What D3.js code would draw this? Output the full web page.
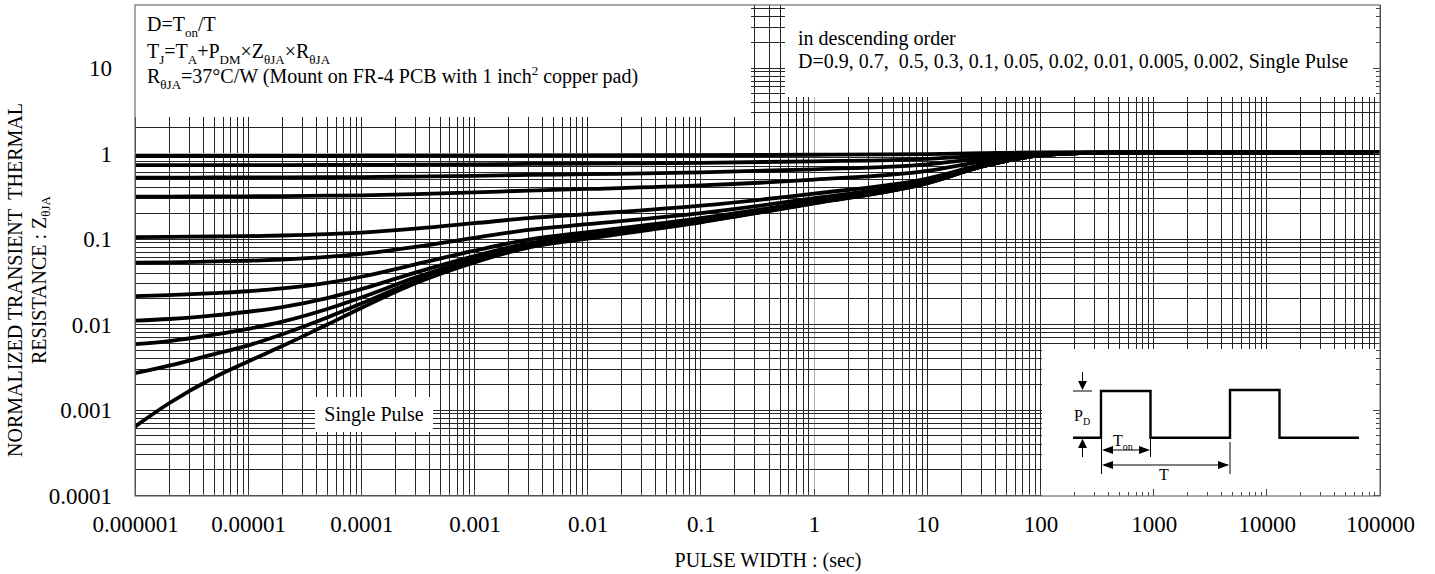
<!DOCTYPE html>
<html>
<head>
<meta charset="utf-8">
<script src="https://cdn.jsdelivr.net/npm/d3@7"></script>
<style>
  body { margin: 0; background: #fff; }
  svg { display: block; }
  text { font-family: "Liberation Serif", "Times New Roman", serif; fill: #000; white-space: pre; }
</style>
</head>
<body>
<svg id="chart" width="1435" height="574"></svg>
<script>
// Pulse widths (s) at which the transient thermal curves are sampled
const pulseWidth = [1e-6, 2e-6, 5e-6, 1e-5, 2e-5, 5e-5, 1e-4, 3e-4, 1e-3, 3e-3, 1e-2, 1e-1, 1, 10, 30, 100, 300, 1000, 1e4, 1e5];

// Normalized transient thermal resistance, one array per duty cycle
const zD09    = [0.941, 0.941, 0.941, 0.941, 0.941, 0.941, 0.942, 0.944, 0.946, 0.948, 0.951, 0.956, 0.967, 0.985, 1.010, 1.030, 1.030, 1.03, 1.03, 1.03];
const zD07    = [0.732, 0.732, 0.732, 0.733, 0.733, 0.735, 0.736, 0.741, 0.748, 0.755, 0.762, 0.779, 0.810, 0.866, 0.942, 1.017, 1.029, 1.03, 1.03, 1.03];
const zD05    = [0.523, 0.523, 0.524, 0.524, 0.525, 0.528, 0.530, 0.538, 0.549, 0.562, 0.573, 0.601, 0.653, 0.747, 0.873, 0.998, 1.027, 1.03, 1.03, 1.03];
const zD03    = [0.314, 0.314, 0.315, 0.316, 0.318, 0.321, 0.324, 0.335, 0.351, 0.369, 0.385, 0.423, 0.496, 0.628, 0.804, 0.979, 1.024, 1.03, 1.03, 1.03];
const zD01    = [0.105, 0.106, 0.107, 0.108, 0.110, 0.114, 0.119, 0.132, 0.153, 0.176, 0.196, 0.246, 0.340, 0.509, 0.735, 0.960, 1.021, 1.03, 1.03, 1.03];
const zD005   = [0.0529, 0.0534, 0.0547, 0.0557, 0.0576, 0.0618, 0.0670, 0.0810, 0.103, 0.128, 0.149, 0.201, 0.300, 0.479, 0.717, 0.956, 1.020, 1.03, 1.03, 1.03];
const zD002   = [0.0215, 0.0221, 0.0233, 0.0245, 0.0264, 0.0307, 0.0362, 0.0506, 0.0731, 0.0987, 0.120, 0.175, 0.277, 0.461, 0.707, 0.953, 1.020, 1.03, 1.03, 1.03];
const zD001   = [0.0111, 0.0116, 0.0128, 0.0141, 0.0160, 0.0204, 0.0259, 0.0405, 0.0632, 0.0891, 0.111, 0.166, 0.269, 0.455, 0.704, 0.952, 1.020, 1.03, 1.03, 1.03];
const zD0005  = [0.0059, 0.0064, 0.0076, 0.0089, 0.0108, 0.0152, 0.0207, 0.0354, 0.0583, 0.0842, 0.106, 0.161, 0.265, 0.452, 0.702, 0.951, 1.020, 1.03, 1.03, 1.03];
const zD0002  = [0.0027, 0.0033, 0.0045, 0.0057, 0.0077, 0.0121, 0.0176, 0.0323, 0.0553, 0.0813, 0.103, 0.159, 0.263, 0.451, 0.701, 0.951, 1.020, 1.03, 1.03, 1.03];
const zSingle = [0.00064, 0.0012, 0.0024, 0.0037, 0.0056, 0.0100, 0.0156, 0.0303, 0.0533, 0.0794, 0.101, 0.157, 0.261, 0.449, 0.700, 0.950, 1.019, 1.03, 1.03, 1.03];

const dutyNames = ["0.9", "0.7", "0.5", "0.3", "0.1", "0.05", "0.02", "0.01", "0.005", "0.002", "Single Pulse"];
const dutySeries = [zD09, zD07, zD05, zD03, zD01, zD005, zD002, zD001, zD0005, zD0002, zSingle];

// Axis tick labels
const xTickLabels = ["0.000001", "0.00001", "0.0001", "0.001", "0.01", "0.1", "1", "10", "100", "1000", "10000", "100000"];
const yTickLabels = ["0.0001", "0.001", "0.01", "0.1", "1", "10"];
const yTop = 54.6;

const svg = d3.select("#chart");
const L = 135, R = 1380, T = 5, B = 496;
const yBottomPx = 495.5;

const x = d3.scaleLog().domain([1e-6, 1e5]).range([L, R]);
const y = d3.scaleLog().domain([1e-4, yTop]).range([yBottomPx, T]);

// ---- grid ----
const xGrid = [];
for (let e = -6; e <= 4; e++) for (let m = 1; m <= 9; m++) xGrid.push(m * Math.pow(10, e));
xGrid.push(1e5);
const yGrid = [];
for (let e = -4; e <= 1; e++) for (let m = 1; m <= 9; m++) {
  const v = m * Math.pow(10, e);
  if (v <= yTop) yGrid.push(v);
}
const isOne = d => Math.abs(d - 1) < 1e-9;
const isDecade = d => Math.abs(Math.log10(d) - Math.round(Math.log10(d))) < 1e-9;

const grid = svg.append("g").attr("shape-rendering", "crispEdges");
grid.selectAll("line.v").data(xGrid).join("line")
  .attr("class", "v")
  .attr("x1", d => x(d)).attr("x2", d => x(d))
  .attr("y1", T).attr("y2", B)
  .attr("stroke", d => isOne(d) ? "#b5b5b5" : "#262626")
  .attr("stroke-width", 1);
grid.selectAll("line.h").data(yGrid).join("line")
  .attr("class", "h")
  .attr("x1", L).attr("x2", R)
  .attr("y1", d => y(d)).attr("y2", d => y(d))
  .attr("stroke", d => isOne(d) ? "#b5b5b5" : "#262626")
  .attr("stroke-width", 1);

// ---- curves ----
svg.append("clipPath").attr("id", "plotClip")
  .append("rect").attr("x", L).attr("y", T).attr("width", R - L).attr("height", B - T);

const line = d3.line()
  .x(d => x(d[0]))
  .y(d => y(d[1]))
  .curve(d3.curveMonotoneX);

svg.append("g").attr("clip-path", "url(#plotClip)")
  .selectAll("path").data(dutySeries).join("path")
  .attr("d", vals => line(pulseWidth.map((t, i) => [t, vals[i]])))
  .attr("fill", "none")
  .attr("stroke", "#000")
  .attr("stroke-width", 3.8)
  .attr("stroke-linejoin", "round");

// ---- white panels over the grid ----
const panels = svg.append("g");
panels.append("rect").attr("x", L).attr("y", T).attr("width", 751 - L).attr("height", 117 - T).attr("fill", "#fff");
panels.append("rect").attr("x", 785).attr("y", T).attr("width", R - 785).attr("height", 97 - T).attr("fill", "#fff");
panels.append("rect").attr("x", 1042).attr("y", 349).attr("width", R - 1042).attr("height", B - 349).attr("fill", "#fff");
panels.append("rect").attr("x", 315).attr("y", 397).attr("width", 118).attr("height", 35).attr("fill", "#fff");

// ---- inward ticks on bottom and right edges ----
const ticks = svg.append("g").attr("shape-rendering", "crispEdges");
ticks.selectAll("line.bt").data(xGrid).join("line")
  .attr("class", "bt")
  .attr("x1", d => x(d)).attr("x2", d => x(d))
  .attr("y1", B).attr("y2", d => isDecade(d) ? B - 7 : B - 4)
  .attr("stroke", "#444");
ticks.selectAll("line.rt").data(yGrid).join("line")
  .attr("class", "rt")
  .attr("x1", R).attr("x2", d => isDecade(d) ? R - 7 : R - 4)
  .attr("y1", d => y(d)).attr("y2", d => y(d))
  .attr("stroke", "#444");

// ---- frame ----
svg.append("rect").attr("x", L).attr("y", T).attr("width", R - L).attr("height", B - T)
  .attr("fill", "none").attr("stroke", "#6e6e6e").attr("stroke-width", 1.2);

// ---- axes labels ----
const xAxis = d3.axisBottom(x)
  .tickValues(xTickLabels.map(Number))
  .tickFormat((d, i) => xTickLabels[i])
  .tickSize(0).tickPadding(0);
const gx = svg.append("g").attr("transform", `translate(0,${B})`).call(xAxis);
gx.select(".domain").remove();
gx.selectAll("text")
  .attr("y", 36).attr("dy", null)
  .style("font-family", '"Liberation Serif", serif')
  .style("font-size", "23px").attr("fill", "#000");

const yAxis = d3.axisLeft(y)
  .tickValues(yTickLabels.map(Number))
  .tickFormat((d, i) => yTickLabels[i])
  .tickSize(0).tickPadding(0);
const gy = svg.append("g").attr("transform", `translate(${L},0)`).call(yAxis);
gy.select(".domain").remove();
gy.selectAll("text")
  .attr("x", -23).attr("dy", "0.34em")
  .style("font-family", '"Liberation Serif", serif')
  .style("font-size", "23px").attr("fill", "#000");

svg.append("text")
  .attr("x", 768).attr("y", 567)
  .attr("text-anchor", "middle")
  .style("font-size", "20px")
  .text("PULSE WIDTH : (sec)");

// Y title: two rotated lines
const yTitle = svg.append("g").attr("transform", "translate(0,280) rotate(-90)");
yTitle.append("text").attr("x", 0).attr("y", 22)
  .attr("text-anchor", "middle").style("font-size", "20px")
  .text("NORMALIZED TRANSIENT  THERMAL");
const yt2 = yTitle.append("text").attr("x", 0).attr("y", 46)
  .attr("text-anchor", "middle").style("font-size", "20px");
yt2.append("tspan").text("RESISTANCE : Z");
yt2.append("tspan").attr("dy", 4).style("font-size", "13px").text("θJA");

// ---- annotation text helper: segments of [text, "sub"|"sup"|null] ----
function richText(g, xPos, yPos, size, segs) {
  const t = g.append("text").attr("x", xPos).attr("y", yPos).style("font-size", size + "px");
  let shift = 0;
  segs.forEach(([s, kind]) => {
    const target = kind === "sub" ? Math.round(size * 0.28) : kind === "sup" ? -Math.round(size * 0.38) : 0;
    const sp = t.append("tspan").attr("dy", target - shift).text(s);
    if (kind) sp.style("font-size", Math.round(size * 0.65) + "px");
    shift = target;
  });
  return t;
}

const notes = svg.append("g");
richText(notes, 147, 31, 20, [["D=T"], ["on", "sub"], ["/T"]]);
richText(notes, 147, 58, 20, [["T"], ["J", "sub"], ["=T"], ["A", "sub"], ["+P"], ["DM", "sub"], ["×Z"], ["θJA", "sub"], ["×R"], ["θJA", "sub"]]);
richText(notes, 147, 83, 20, [["R"], ["θJA", "sub"], ["=37°C/W (Mount on FR-4 PCB with 1 inch"], ["2", "sup"], [" copper pad)"]]);

notes.append("text").attr("x", 798).attr("y", 45).style("font-size", "20px").text("in descending order");
notes.append("text").attr("x", 798).attr("y", 68).style("font-size", "20px")
  .text("D=" + dutyNames.map((d, i) => (i === 2 ? " " : "") + d).join(", "));

notes.append("text").attr("x", 374).attr("y", 421).attr("text-anchor", "middle")
  .style("font-size", "20px").text("Single Pulse");

// ---- pulse train diagram ----
const dia = svg.append("g").attr("fill", "none").attr("stroke", "#000");
const lo = 437.7, hi = 391;
dia.append("path").attr("stroke-width", 2.4)
  .attr("d", `M1073,${lo} H1101 V${hi} H1150.5 V${lo} H1230 V${hi - 1} H1279.5 V${lo} H1359`);
// P_D dimension
dia.append("line").attr("x1", 1073).attr("x2", 1092).attr("y1", hi).attr("y2", hi).attr("stroke-width", 1);
dia.append("line").attr("x1", 1082.5).attr("x2", 1082.5).attr("y1", 372).attr("y2", 382).attr("stroke-width", 1);
dia.append("path").attr("d", `M1078,381 L1087,381 L1082.5,${hi - 1} Z`).attr("fill", "#000").attr("stroke", "none");
dia.append("line").attr("x1", 1082.5).attr("x2", 1082.5).attr("y1", 447).attr("y2", 457).attr("stroke-width", 1);
dia.append("path").attr("d", `M1078,448 L1087,448 L1082.5,${lo + 1} Z`).attr("fill", "#000").attr("stroke", "none");
// T_on / T extension lines
dia.append("line").attr("x1", 1101.5).attr("x2", 1101.5).attr("y1", lo).attr("y2", 474).attr("stroke-width", 1);
dia.append("line").attr("x1", 1150.5).attr("x2", 1150.5).attr("y1", lo).attr("y2", 457).attr("stroke-width", 1);
dia.append("line").attr("x1", 1230).attr("x2", 1230).attr("y1", 442).attr("y2", 474).attr("stroke-width", 1);
// T_on arrow
dia.append("line").attr("x1", 1104).attr("x2", 1148).attr("y1", 450).attr("y2", 450).attr("stroke-width", 1.2);
dia.append("path").attr("d", "M1102,450 L1113,446 L1113,454 Z").attr("fill", "#000").attr("stroke", "none");
dia.append("path").attr("d", "M1150,450 L1139,446 L1139,454 Z").attr("fill", "#000").attr("stroke", "none");
// T arrow
dia.append("line").attr("x1", 1104).attr("x2", 1228).attr("y1", 465).attr("y2", 465).attr("stroke-width", 1.2);
dia.append("path").attr("d", "M1102,465 L1113,461 L1113,469 Z").attr("fill", "#000").attr("stroke", "none");
dia.append("path").attr("d", "M1229,465 L1218,461 L1218,469 Z").attr("fill", "#000").attr("stroke", "none");

const diaText = svg.append("g");
richText(diaText, 1074, 421, 16, [["P"], ["D", "sub"]]);
richText(diaText, 1113, 446, 16, [["T"], ["on", "sub"]]);
diaText.append("text").attr("x", 1164).attr("y", 480).attr("text-anchor", "middle")
  .style("font-size", "16px").text("T");
</script>
</body>
</html>
